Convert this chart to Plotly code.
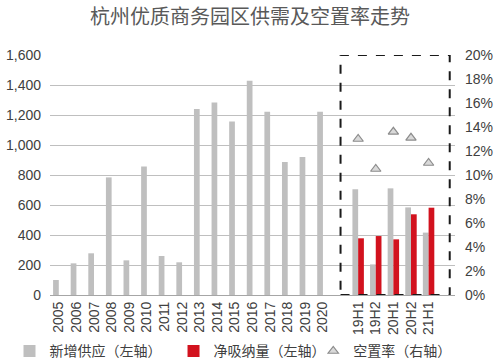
import plotly.graph_objects as go

years = ["2005", "2006", "2007", "2008", "2009", "2010", "2011", "2012",
         "2013", "2014", "2015", "2016", "2017", "2018", "2019", "2020"]
halves = ["19H1", "19H2", "20H1", "20H2", "21H1"]
categories = years + [" "] + halves + ["  "]

supply_years = [100, 211, 278, 784, 231, 856, 260, 218,
                1240, 1284, 1156, 1429, 1222, 887, 920, 1222]
supply_halves = [705, 204, 711, 584, 416]
absorption_halves = [378, 393, 371, 538, 582]
vacancy_halves = [0.130, 0.105, 0.136, 0.131, 0.110]

GRAY = "#BFBFBF"
RED = "#D2121E"
TXT = "#404040"
NUM_FONT = "Liberation Sans, Arial, sans-serif"
CJK_FONT = "Noto Sans CJK SC, sans-serif"

fig = go.Figure()
fig.add_trace(go.Bar(
    x=years + halves, y=supply_years + supply_halves,
    name="新增供应（左轴）", marker=dict(color=GRAY, line=dict(width=0)),
    legend="legend",
))
fig.add_trace(go.Bar(
    x=halves, y=absorption_halves,
    name="净吸纳量（左轴）", marker=dict(color=RED, line=dict(width=0)),
    legend="legend2",
))
fig.add_trace(go.Scatter(
    x=halves, y=vacancy_halves, yaxis="y2", mode="markers",
    name="空置率（右轴）",
    marker=dict(symbol="triangle-up", size=9, color="#D9D9D9",
                line=dict(color="#8C8C8C", width=1.2)),
    legend="legend3",
))

# dashed box around half-year section
fig.add_shape(type="rect", xref="x", yref="y", x0=16, x1=22.2, y0=0, y1=1600,
              line=dict(color="#1A1A1A", width=2, dash="dash"), fillcolor="rgba(0,0,0,0)",
              layer="above")

leg_common = dict(orientation="h", y=-0.235, yanchor="middle", xanchor="left",
                  font=dict(family=CJK_FONT, size=14, color=TXT),
                  itemwidth=30, bgcolor="rgba(0,0,0,0)")

fig.update_layout(
    width=500, height=364,
    margin=dict(l=50, r=45, t=55, b=69, autoexpand=False),
    paper_bgcolor="white", plot_bgcolor="white",
    barmode="group", bargap=0.35, bargroupgap=0,
    title=dict(text="杭州优质商务园区供需及空置率走势", x=0.5, xanchor="center",
               y=0.952, yanchor="middle",
               font=dict(family=CJK_FONT, size=20, color="#595959")),
    xaxis=dict(type="category", categoryorder="array", categoryarray=categories,
               range=[-0.5, 22.5], tickangle=-90, showgrid=False, automargin=False,
               showline=True, linecolor="#A6A6A6", linewidth=1, ticks="",
               tickfont=dict(family=NUM_FONT, size=14, color=TXT)),
    yaxis=dict(range=[0, 1600], dtick=200, tickformat=",", showgrid=True,
               gridcolor="#BFBFBF", gridwidth=1, zeroline=False, ticks="", automargin=False,
               ticklabelstandoff=8,
               tickfont=dict(family=NUM_FONT, size=14, color=TXT)),
    yaxis2=dict(overlaying="y", side="right", range=[0, 0.2], dtick=0.02,
                tickformat=".0%", showgrid=False, zeroline=False, ticks="", automargin=False,
                ticklabelstandoff=9,
                tickfont=dict(family=NUM_FONT, size=14, color=TXT)),
    legend=dict(x=-0.10, **leg_common),
    legend2=dict(x=0.305, **leg_common),
    legend3=dict(x=0.65, **leg_common),
    showlegend=True,
)

fig.write_html("out.html", config={"displayModeBar": False},
               post_script="document.body.style.margin='0';document.body.style.padding='0';")
